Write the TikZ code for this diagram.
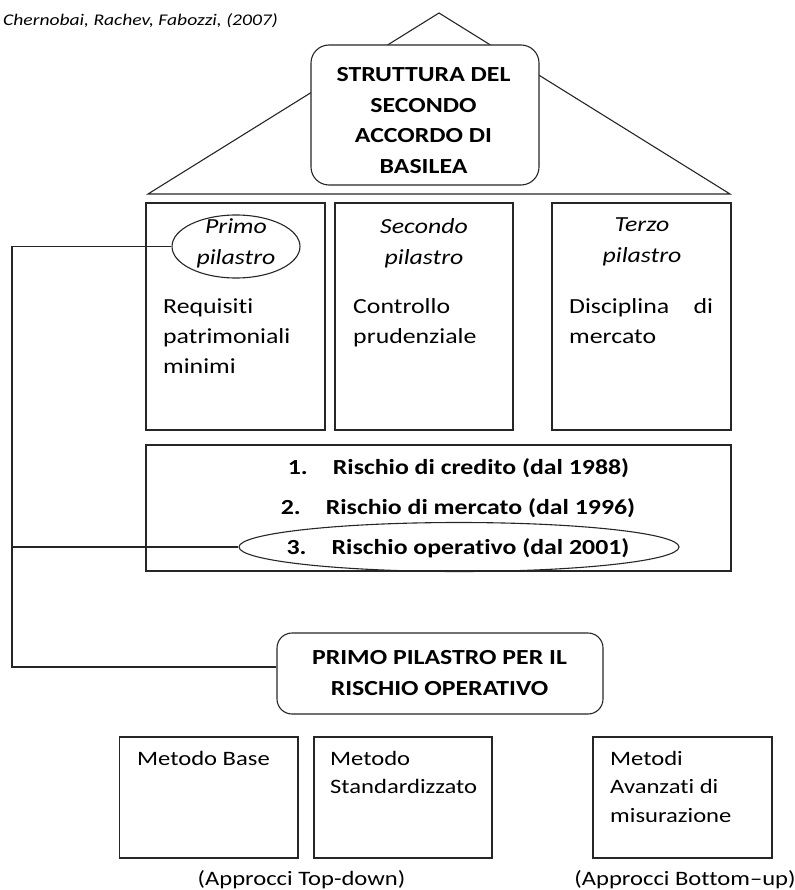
\documentclass[tikz,border=0pt]{standalone}
\usepackage{fontspec}
\setmainfont{Carlito}[FakeStretch=1.2, Ligatures={NoCommon, NoContextual}]
\usetikzlibrary{shapes.geometric}

\begin{document}
\begin{tikzpicture}
        [x=1pt, y=-1pt,
        every node/.style={inner sep=0pt},
        frame/.style={draw=black!85, line width=1.1pt},
        pillar/.style={frame, minimum width=179pt, minimum height=227pt},
        lowbox/.style={frame, minimum width=178pt, minimum height=121pt},
        roundbox/.style={frame, fill=white, rounded corners=18pt},
        oval/.style={frame, ellipse},
        headtext/.style={font=\fontsize{21.5}{30.5}\selectfont\bfseries, align=center},
        pillartitle/.style={font=\fontsize{21.5}{31}\selectfont\itshape, align=center},
        bodytext/.style={font=\fontsize{21.5}{30}\selectfont, align=left, anchor=north west},
        lowtext/.style={font=\fontsize{20.5}{28.5}\selectfont, align=left, anchor=north west},
        risktext/.style={font=\fontsize{21.5}{26}\selectfont\bfseries, anchor=base}]

    \useasboundingbox (0,0) rectangle (794,890);

    \node[font=\fontsize{16.3}{20}\selectfont\itshape, anchor=base west] (source) at (3,26)
      {Chernobai, Rachev, Fabozzi, (2007)};

    % tetto
    \draw[frame, line join=miter] (148,194) -- (439,13) -- (730,194) -- cycle;
    \node[roundbox, minimum width=228pt, minimum height=140pt] (accordo) at (425,115) {};
    \node[headtext] (accordotxt) at (423.5,120.5) {STRUTTURA DEL\\SECONDO\\ACCORDO DI\\BASILEA};

    % pilastri
    \begin{scope}
      \node[pillar] (p1) at (235.5,316.5) {};
      \node[pillar, minimum width=178pt] (p2) at (424,316.5) {};
      \node[pillar] (p3) at (641.5,316.5) {};

      \node[oval, minimum width=128pt, minimum height=63pt] (primoell) at (236,246.5) {};
      \node[pillartitle] (primo) at (236,243) {Primo\\pilastro};
      \node[pillartitle] (secondo) at (424,243) {Secondo\\pilastro};
      \node[pillartitle] (terzo) at (642,242) {Terzo\\pilastro};

      \node[bodytext] (requisiti) at (163,299) {Requisiti\\patrimoniali\\minimi};
      \node[bodytext] (controllo) at (353,298) {Controllo\\prudenziale};
      \node[bodytext, text width=144pt] (disciplina) at (569,298) {Disciplina\hfill di\\mercato};
    \end{scope}

    % rischi
    \begin{scope}
      \node[frame, minimum width=585pt, minimum height=126pt] (rischi) at (438.5,508) {};
      \node[oval, minimum width=440pt, minimum height=49pt] (riskell) at (459,547) {};
      \node[risktext] (r1) at (458.5,474) {1.\hspace{25pt}Rischio di credito (dal 1988)};
      \node[risktext] (r2) at (458,514) {2.\hspace{25pt}Rischio di mercato (dal 1996)};
      \node[risktext] (r3) at (458,554) {3.\hspace{25pt}Rischio operativo (dal 2001)};
    \end{scope}

    % primo pilastro per il rischio operativo
    \begin{scope}
      \node[roundbox, minimum width=326pt, minimum height=81pt, rounded corners=15pt] (primobox) at (440,673.5) {};
      \node[headtext] (primotxt) at (439.5,673) {PRIMO PILASTRO PER IL\\RISCHIO OPERATIVO};

      \node[lowbox, minimum width=178.5pt] (base) at (208.75,797.5) {};
      \node[lowbox] (std) at (403,797.5) {};
      \node[lowbox, minimum width=179pt] (avanzati) at (682.5,797.5) {};
      \node[lowtext] (basetxt) at (137,751) {Metodo Base};
      \node[lowtext] (stdtxt) at (330,751) {Metodo\\Standardizzato};
      \node[lowtext] (avanzatitxt) at (610,751) {Metodi\\Avanzati di\\misurazione};

      \node[font=\fontsize{20.5}{24}\selectfont, anchor=base] (topdown) at (301.5,885) {(Approcci Top-down)};
      \node[font=\fontsize{20.5}{24}\selectfont, anchor=base] (bottomup) at (685,885) {(Approcci Bottom–up)};
    \end{scope}

    \coordinate (rail) at (12,400);
    \draw[frame] (primoell.west) -| (rail) |- ([yshift=6.5pt]primobox.west);
    \draw[frame] (riskell.west) -- (riskell.west -| rail);
\end{tikzpicture}
\end{document}
